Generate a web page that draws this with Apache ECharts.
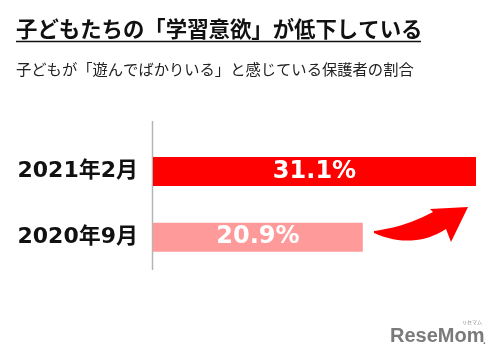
<!DOCTYPE html>
<html><head><meta charset="utf-8">
<script src="https://cdn.jsdelivr.net/npm/echarts@6/dist/echarts.min.js"></script>
<style>html,body{margin:0;padding:0;background:#fff}#c{width:497px;height:361px}</style>
</head><body><div id="c"></div>
<script>
const categories = ['2020年9月', '2021年2月'];
const values = [20.9, 31.1];
const barColors = ['#ff9a9a', '#ff0000'];
const titleText = '子どもたちの「学習意欲」が低下している';
const subtitleText = '子どもが「遊んでばかりいる」と感じている保護者の割合';

// decorative arrow outline (quadratic curves sampled)
function quad(p0, c, p1, n) {
  const pts = [];
  for (let i = 0; i <= n; i++) {
    const t = i / n, u = 1 - t;
    pts.push([u*u*p0[0] + 2*u*t*c[0] + t*t*p1[0], u*u*p0[1] + 2*u*t*c[1] + t*t*p1[1]]);
  }
  return pts;
}
const arrowPts = [].concat(
  quad([374, 231], [405, 227], [433, 212], 16),
  [[430, 209], [468, 207], [451, 242]],
  quad([446, 229], [413, 250], [374, 233], 16)
);

const chart = echarts.init(document.getElementById('c'));
chart.setOption({
  animation: false,
  backgroundColor: '#ffffff',
  grid: { left: 153, right: 21, top: 138.5, bottom: 91 },
  xAxis: { type: 'value', min: 2, max: 31.1, show: false },
  yAxis: {
    type: 'category', data: categories,
    axisLine: { show: false }, axisTick: { show: false },
    axisLabel: { margin: 15, fontSize: 22, fontWeight: 'bold', color: '#111',
      fontFamily: '"DejaVu Sans","Noto Sans CJK JP",sans-serif' }
  },
  series: [{
    type: 'bar', barWidth: 29,
    data: values.map((v, i) => ({ value: v, itemStyle: { color: barColors[i] } })),
    label: { show: true, position: 'inside', color: '#fff', fontSize: 24, fontWeight: 'bold',
      fontFamily: '"DejaVu Sans",sans-serif', formatter: p => p.value.toFixed(1) + '%' }
  }],
  graphic: [
    { type: 'text', x: 16, y: 18, style: { text: titleText, fontSize: 21.4, fontWeight: 'bold',
      fill: '#111', fontFamily: '"Noto Sans CJK JP",sans-serif', verticalAlign: 'top' } },
    { type: 'line', shape: { x1: 16, y1: 41.5, x2: 421, y2: 41.5 }, style: { stroke: '#111', lineWidth: 1.5 } },
    { type: 'text', x: 16, y: 62, style: { text: subtitleText, fontSize: 15.3,
      fill: '#222', fontFamily: '"Noto Sans CJK JP",sans-serif', verticalAlign: 'top' } },
    { type: 'line', shape: { x1: 152.5, y1: 121, x2: 152.5, y2: 270 }, style: { stroke: '#b4b4b4', lineWidth: 1.5 } },
    { type: 'polygon', shape: { points: arrowPts }, style: { fill: '#ff0000' } },
    { type: 'text', x: 390, y: 326, style: { text: 'ReseMom', fontSize: 20, fontWeight: 'bold',
      fill: '#7a7a7a', fontFamily: '"Liberation Sans",sans-serif', verticalAlign: 'top' } },
    { type: 'text', x: 483, y: 336, style: { text: '.', fontSize: 10, fontWeight: 'bold',
      fill: '#7a7a7a', fontFamily: '"Liberation Sans",sans-serif', verticalAlign: 'top' } },
    { type: 'text', x: 462, y: 320, style: { text: 'リセマム', fontSize: 5,
      fill: '#888', fontFamily: '"Noto Sans CJK JP",sans-serif', verticalAlign: 'top' } }
  ]
});
</script></body></html>
